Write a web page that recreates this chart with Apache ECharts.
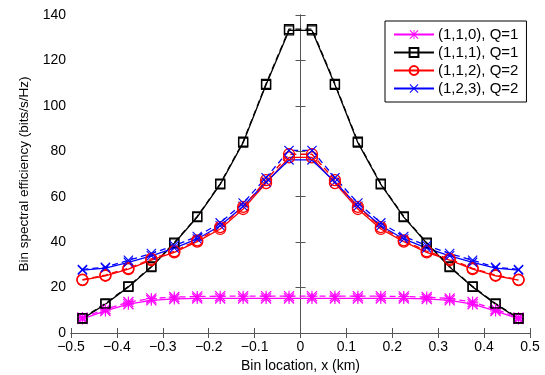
<!DOCTYPE html>
<html>
<head>
<meta charset="utf-8">
<script src="https://cdn.jsdelivr.net/npm/echarts@6/dist/echarts.min.js"></script>
<style>
  html, body { margin: 0; padding: 0; background: #fff; }
  #chart { width: 545px; height: 375px; }
</style>
</head>
<body>
<div id="chart"></div>
<script>
// bin centres (km)
var binX = [-0.475, -0.425, -0.375, -0.325, -0.275, -0.225, -0.175, -0.125, -0.075, -0.025,
             0.025, 0.075, 0.125, 0.175, 0.225, 0.275, 0.325, 0.375, 0.425, 0.475];

// (1,1,0), Q=1
var magSolid = [6.2, 9.7, 12.7, 14.4, 15.0, 15.2, 15.2, 15.2, 15.2, 15.2,
                15.2, 15.2, 15.2, 15.2, 15.2, 15.0, 14.4, 12.7, 9.7, 6.2];
var magDash  = [6.8, 10.5, 13.6, 15.2, 15.8, 16.1, 16.2, 16.2, 16.2, 16.2,
                16.2, 16.2, 16.2, 16.2, 16.1, 15.8, 15.2, 13.6, 10.5, 6.8];
// (1,1,1), Q=1
var blkSolid = [6.3, 12.7, 20.3, 29.0, 39.5, 51.0, 65.4, 83.8, 109.3, 133.2,
                133.2, 109.3, 83.8, 65.4, 51.0, 39.5, 29.0, 20.3, 12.7, 6.3];
var blkDash  = [6.5, 13.0, 20.5, 29.3, 39.8, 51.3, 65.7, 84.2, 109.7, 133.8,
                133.8, 109.7, 84.2, 65.7, 51.3, 39.8, 29.3, 20.5, 13.0, 6.5];
// (1,1,2), Q=2
var redSolid = [23.3, 25.2, 28.1, 32.1, 35.5, 40.2, 45.8, 54.6, 66.0, 77.3,
                77.3, 66.0, 54.6, 45.8, 40.2, 35.5, 32.1, 28.1, 25.2, 23.3];
var redDash  = [23.5, 25.5, 28.5, 32.6, 36.0, 40.8, 46.6, 55.5, 67.3, 78.7,
                78.7, 67.3, 55.5, 46.6, 40.8, 36.0, 32.6, 28.5, 25.5, 23.5];
// (1,2,3), Q=2
var bluSolid = [27.7, 28.6, 31.1, 34.0, 37.4, 41.4, 47.2, 55.8, 66.5, 76.2,
                76.2, 66.5, 55.8, 47.2, 41.4, 37.4, 34.0, 31.1, 28.6, 27.7];
var bluDash  = [28.0, 29.0, 32.0, 35.0, 38.5, 42.5, 48.5, 57.2, 68.4, 80.4,
                80.4, 68.4, 57.2, 48.5, 42.5, 38.5, 35.0, 32.0, 29.0, 28.0];

var legendNames = ['(1,1,0), Q=1', '(1,1,1), Q=1', '(1,1,2), Q=2', '(1,2,3), Q=2'];
var xTicks = [-0.5, 0.5, 0.1];
var yTicks = [0, 140, 20];

var FONT = 'Liberation Sans';
var AXIS_COLOR = '#555';

// marker shapes (matlab style, unfilled)
var starPath = 'path://M4.5,0 L5.5,0 L5.5,10 L4.5,10 Z M0,4.5 L10,4.5 L10,5.5 L0,5.5 Z ' +
               'M0.8,0 L10,9.2 L9.2,10 L0,0.8 Z M9.2,0 L10,0.8 L0.8,10 L0,9.2 Z';
var xPath = 'path://M0.8,0 L10,9.2 L9.2,10 L0,0.8 Z M9.2,0 L10,0.8 L0.8,10 L0,9.2 Z';

function pairs(vals) {
    return binX.map(function (x, i) { return [x, vals[i]]; });
}

function makeSeries(name, vals, color, symbol, size, filled, dashed) {
    return {
        name: name,
        type: 'line',
        data: pairs(vals),
        symbol: symbol,
        symbolSize: size,
        showAllSymbol: true,
        animation: false,
        lineStyle: { color: color, width: 1.3, type: dashed ? [6, 4] : 'solid' },
        itemStyle: filled
            ? { color: color, borderWidth: 0 }
            : { color: 'rgba(255,255,255,0)', borderColor: color, borderWidth: 1.3 },
        emphasis: { disabled: true }
    };
}

var series = [
    makeSeries(legendNames[0], magSolid, '#ff00ff', starPath, 11, true, false),
    makeSeries(legendNames[1], blkSolid, '#000000', 'rect', 9, false, false),
    makeSeries(legendNames[2], redSolid, '#ff0000', 'circle', 11, false, false),
    makeSeries(legendNames[3], bluSolid, '#0000ff', xPath, 10, true, false),
    makeSeries(legendNames[0], magDash, '#ff00ff', starPath, 11, true, true),
    makeSeries(legendNames[1], blkDash, '#000000', 'rect', 9, false, true),
    makeSeries(legendNames[2], redDash, '#ff0000', 'circle', 11, false, true),
    makeSeries(legendNames[3], bluDash, '#0000ff', xPath, 10, true, true)
];

function fmtX(v) {
    if (Math.abs(v) < 1e-9) return '0';
    var s = Math.abs(v).toFixed(1);
    return v < 0 ? '\u2212' + s : s;
}

var boxAxis = {
    axisLine: { show: true, lineStyle: { color: AXIS_COLOR, width: 1 } },
    axisTick: { show: true, inside: true, length: 5, lineStyle: { color: AXIS_COLOR } },
    splitLine: { show: false }
};

var option = {
    backgroundColor: '#fff',
    textStyle: { fontFamily: FONT },
    grid: { left: 71, right: 15, top: 15, bottom: 42, outerBoundsMode: 'none', containLabel: false },
    legend: {
        data: legendNames,
        orient: 'vertical',
        left: 385,
        top: 21,
        itemWidth: 40,
        itemHeight: 11,
        itemGap: 3,
        padding: [6, 8, 6, 8],
        backgroundColor: '#fff',
        borderColor: '#000',
        borderWidth: 1,
        borderRadius: 0,
        selectedMode: false,
        textStyle: { fontFamily: FONT, fontSize: 15, color: '#000', padding: [0, 0, 0, -1] }
    },
    xAxis: [
        Object.assign({
            type: 'value',
            min: xTicks[0], max: xTicks[1], interval: xTicks[2],
            name: 'Bin location, x (km)',
            nameLocation: 'middle',
            nameGap: 23,
            nameTextStyle: { fontFamily: FONT, fontSize: 14, color: '#000' },
            axisLabel: { formatter: fmtX, fontFamily: FONT, fontSize: 14, color: '#000', margin: 7 }
        }, boxAxis),
        Object.assign({
            type: 'value', position: 'top',
            min: xTicks[0], max: xTicks[1], interval: xTicks[2],
            axisLabel: { show: false }
        }, boxAxis)
    ],
    yAxis: [
        Object.assign({
            type: 'value',
            min: yTicks[0], max: yTicks[1], interval: yTicks[2],
            name: 'Bin spectral efficiency (bits/s/Hz)',
            nameLocation: 'middle',
            nameGap: 34,
            nameTextStyle: { fontFamily: FONT, fontSize: 13.5, color: '#000' },
            axisLabel: { fontFamily: FONT, fontSize: 14, color: '#000', margin: 5 }
        }, boxAxis),
        Object.assign({
            type: 'value', position: 'right',
            min: yTicks[0], max: yTicks[1], interval: yTicks[2],
            axisLabel: { show: false }
        }, boxAxis)
    ],
    series: series
};

var myChart = echarts.init(document.getElementById('chart'));
myChart.setOption(option);
</script>
</body>
</html>
